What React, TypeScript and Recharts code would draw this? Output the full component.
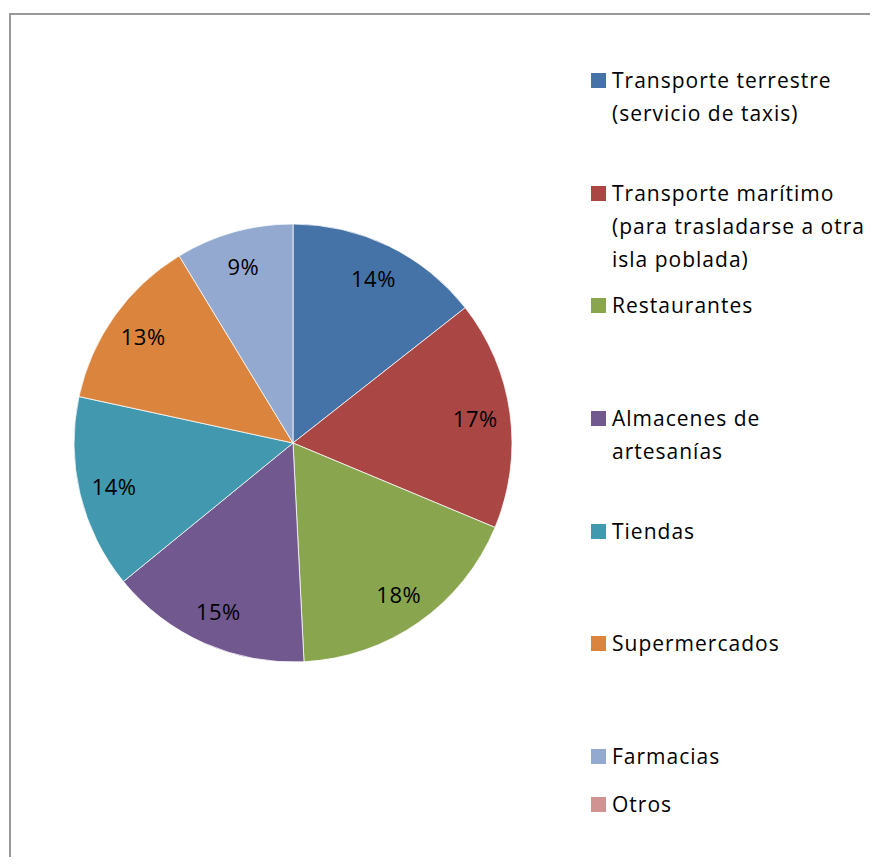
import React from "react";
import { PieChart, Pie, Cell, Legend } from "recharts";

const categories = [
  "Transporte terrestre (servicio de taxis)",
  "Transporte marítimo (para trasladarse a otra isla poblada)",
  "Restaurantes",
  "Almacenes de artesanías",
  "Tiendas",
  "Supermercados",
  "Farmacias",
  "Otros",
];

const shares = [14.4, 16.9, 17.9, 14.9, 14.3, 12.9, 8.7, 0];

const colors = [
  "#4572A7",
  "#AA4643",
  "#89A54E",
  "#71588F",
  "#4198AF",
  "#DB843D",
  "#93A9CF",
  "#D19392",
];

const data = categories.map((name, i) => ({ name, value: shares[i] }));

const FONT = "'Open Sans', Lato, sans-serif";
const RAD = Math.PI / 180;

function renderLabel(props: any) {
  const { cx, cy, midAngle, outerRadius, percent } = props;
  if (!percent) return null;
  const r = outerRadius * 0.84;
  const x = cx + r * Math.cos(-midAngle * RAD);
  const y = cy + r * Math.sin(-midAngle * RAD);
  return (
    <text
      x={x}
      y={y}
      textAnchor="middle"
      dominantBaseline="central"
      fill="#000"
      fontSize={22}
      fontFamily={FONT}
      letterSpacing={0.5}
    >
      {`${Math.round(percent * 100)}%`}
    </text>
  );
}

// legend keeps the data order (Recharts would sort it by name)
function LegendContent() {
  return (
    <div
      style={{
        fontFamily: FONT,
        fontSize: 21,
        letterSpacing: 1,
        lineHeight: "33.3px",
        color: "#000",
      }}
    >
      {data.map((d, i) => (
        <div
          key={d.name}
          style={{ display: "flex", alignItems: "flex-start", height: i === 6 ? 48 : 112.7 }}
        >
          <span
            style={{
              width: 15,
              height: 15,
              marginTop: 9,
              marginRight: 6,
              flexShrink: 0,
              background: colors[i],
            }}
          />
          <span style={{ width: 260 }}>{d.name}</span>
        </div>
      ))}
    </div>
  );
}

export default function App() {
  return (
    <div
      style={{
        position: "relative",
        width: 870,
        height: 857,
        marginBottom: -8,
        overflow: "hidden",
      }}
    >
      <div
        style={{
          position: "absolute",
          left: 1,
          top: 5,
          width: 1000,
          height: 1000,
          borderLeft: "2px solid #999",
          borderTop: "2px solid #999",
        }}
      />
      <PieChart width={870} height={857} margin={{ top: 0, right: 0, bottom: 0, left: 0 }}>
        <Pie
          data={data}
          dataKey="value"
          nameKey="name"
          cx={285}
          cy={435}
          outerRadius={219}
          startAngle={90}
          endAngle={-270}
          stroke="#ffffff"
          strokeWidth={0.75}
          label={renderLabel}
          labelLine={false}
          isAnimationActive={false}
        >
          {data.map((d, i) => (
            <Cell key={d.name} fill={colors[i]} />
          ))}
        </Pie>
        <Legend
          layout="vertical"
          align="right"
          verticalAlign="top"
          content={<LegendContent />}
          wrapperStyle={{ left: 583, top: 56, width: 290, right: "auto" }}
        />
      </PieChart>
    </div>
  );
}
